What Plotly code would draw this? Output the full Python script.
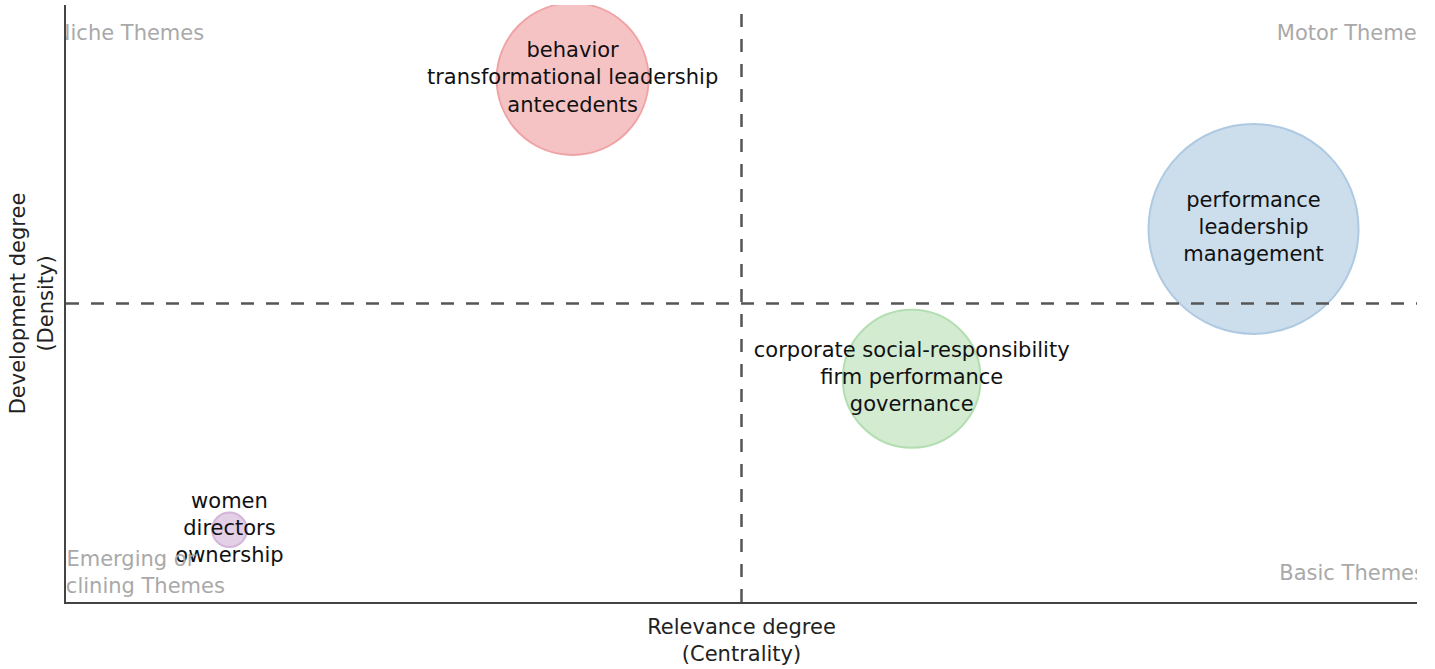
import numpy as np
import plotly.graph_objects as go

# Cluster data
clusters = [
    "behavior<br>transformational leadership<br>antecedents",
    "performance<br>leadership<br>management",
    "corporate social-responsibility<br>firm performance<br>governance",
    "women<br>directors<br>ownership",
]
centrality = [3.75, 8.79, 6.26, 1.21]
density = [8.76, 6.25, 3.74, 1.21]
freq = [231, 441, 190, 12]  # cluster frequency (bubble area)
fill_colors = ["#F6C3C5", "#CCDDEB", "#D3EBD1", "#E3D0E6"]
edge_colors = ["#EFA3A5", "#AECAE2", "#B3DEB1", "#D3B6D9"]

quadrants = ["Niche Themes", "Motor Themes", "Emerging or<br>Declining Themes", "Basic Themes"]

x_range = [0, 10]
y_range = [0, 10]
x_mid = 5.0
y_mid = 5.0

sizes = np.sqrt(np.array(freq)) * 10

font_family = "Verdana, DejaVu Sans, sans-serif"
fs = 21

fig = go.Figure()

fig.add_trace(go.Scatter(
    x=centrality, y=density, mode="markers+text",
    text=clusters, textposition="middle center",
    textfont=dict(size=fs, color="#111111", family=font_family),
    marker=dict(size=sizes, sizemode="diameter", color=fill_colors,
                line=dict(color=edge_colors, width=2), opacity=1),
    cliponaxis=True, hoverinfo="skip", showlegend=False,
))

# quadrant names near the plot corners
xs = x_range[1] - x_range[0]
ys = y_range[1] - y_range[0]
qx = [x_range[0] + 0.047 * xs, x_range[1] - 0.048 * xs, x_range[0] + 0.048 * xs, x_range[1] - 0.048 * xs]
qy = [y_range[1] - 0.05 * ys, y_range[1] - 0.05 * ys, y_range[0] + 0.047 * ys, y_range[0] + 0.045 * ys]
fig.add_trace(go.Scatter(
    x=qx, y=qy, mode="text", text=quadrants, textposition="middle center",
    textfont=dict(size=fs, color="#A9A9A9", family=font_family),
    cliponaxis=True, hoverinfo="skip", showlegend=False,
))

fig.add_shape(type="line", x0=x_mid, x1=x_mid, y0=y_range[0], y1=y_range[1],
              line=dict(color="#555555", width=2.5, dash="13px,12px"))
fig.add_shape(type="line", x0=x_range[0], x1=x_range[1], y0=y_mid, y1=y_mid,
              line=dict(color="#555555", width=2.5, dash="13px,12px"))

fig.update_layout(
    width=1435, height=669,
    plot_bgcolor="white", paper_bgcolor="white",
    font=dict(family=font_family, size=fs, color="#222222"),
    margin=dict(l=66, r=18, t=5, b=67),
    xaxis=dict(range=x_range, showgrid=False, zeroline=False, showticklabels=False,
               ticks="", showline=True, linecolor="#444444", linewidth=2,
               title=dict(text="Relevance degree<br>(Centrality)", standoff=16,
                          font=dict(size=fs))),
    yaxis=dict(range=y_range, showgrid=False, zeroline=False, showticklabels=False,
               ticks="", showline=True, linecolor="#444444", linewidth=2,
               title=dict(text="Development degree<br>(Density)", standoff=5,
                          font=dict(size=fs))),
)

fig.write_html("out.html", config={"displayModeBar": False},
               post_script="document.body.style.margin='0';")
